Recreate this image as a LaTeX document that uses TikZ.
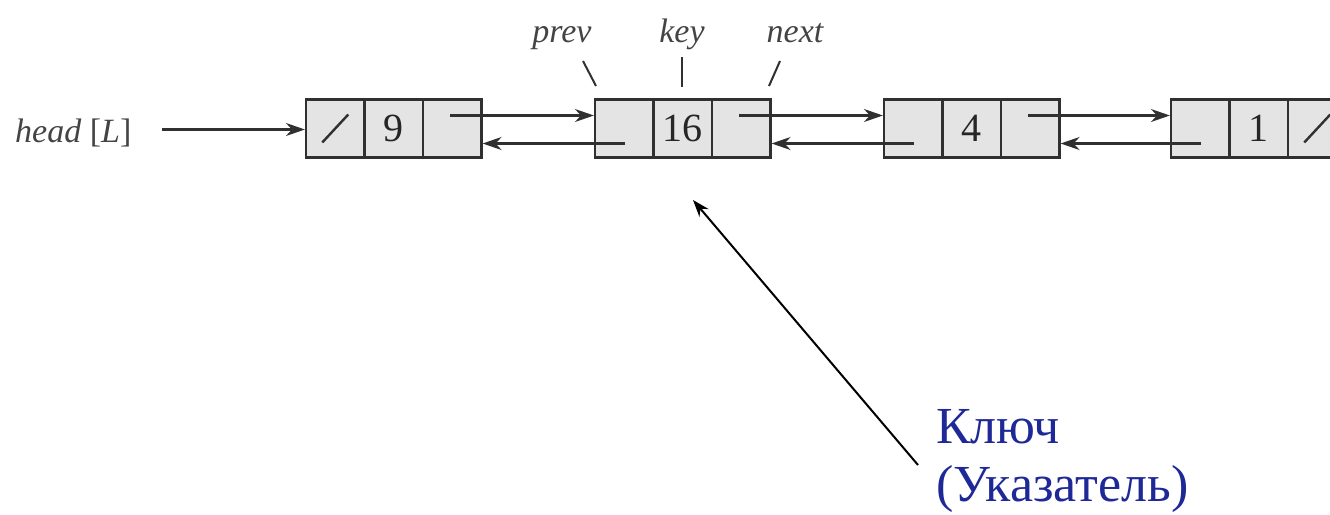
\documentclass[tikz,border=0pt]{standalone}
\usepackage{fontspec}
\setmainfont{Liberation Serif}
\usetikzlibrary{arrows.meta,calc}
\definecolor{inkgray}{HTML}{303030}
\definecolor{txtgray}{HTML}{444444}
\definecolor{cellfill}{HTML}{E4E4E4}
\definecolor{navy}{HTML}{1E2896}
\tikzset{
  cell/.style={draw=inkgray, fill=cellfill, line width=2.2pt, minimum width=58.5pt, minimum height=58pt, inner sep=0pt, text=black!85, font=\fontsize{40}{42}\selectfont},
  lbl/.style={text=txtgray, font=\fontsize{34}{36}\selectfont\itshape, inner sep=0pt},
  ptr/.style={draw=inkgray, line width=2.2pt, -{Stealth[length=19pt,width=13pt]}},
  tick/.style={draw=inkgray, line width=2pt},
  nil/.style={draw=inkgray, line width=2.4pt}
}
\begin{document}
\begin{tikzpicture}[x=1pt,y=-1pt]
\useasboundingbox (0,0) rectangle (1330,514);
\clip (0,0) rectangle (1330,514);
% list nodes
\node[cell] (n1a) at (335.25,128.5) {};
\node[cell] (n1b) at (393.75,128.5) {9};
\node[cell] (n1c) at (452.25,128.5) {};
\node[cell] (n2a) at (624.25,128.5) {};
\node[cell] (n2b) at (682.75,128.5) {16};
\node[cell] (n2c) at (741.25,128.5) {};
\node[cell] (n3a) at (913.25,128.5) {};
\node[cell] (n3b) at (971.75,128.5) {4};
\node[cell] (n3c) at (1030.25,128.5) {};
\node[cell] (n4a) at (1200.25,128.5) {};
\node[cell] (n4b) at (1258.75,128.5) {1};
\node[cell] (n4c) at (1317.25,128.5) {};
% nil slashes
\draw[nil] ($(n1a.center)+(-13,14)$) -- ($(n1a.center)+(13,-14)$);
\draw[nil] ($(n4c.center)+(-13,14)$) -- ($(n4c.center)+(13,-14)$);
% head
\node[lbl, anchor=base west] (head) at (15,142) {head \textup{[}L\textup{]}};
\draw[ptr] ($(n1a.west)+(-143,1)$) -- ($(n1a.west)+(0,1)$);
% next pointers
\draw[ptr] ($(n1c.center)+(-2,-13)$) -- ($(n2a.west)+(0,-13)$);
\draw[ptr] ($(n2c.center)+(-2,-13)$) -- ($(n3a.west)+(0,-13)$);
\draw[ptr] ($(n3c.center)+(-2,-13)$) -- ($(n4a.west)+(0,-13)$);
% prev pointers
\draw[ptr] ($(n2a.center)+(1,15)$) -- ($(n1c.east)+(0,15)$);
\draw[ptr] ($(n3a.center)+(1,15)$) -- ($(n2c.east)+(0,15)$);
\draw[ptr] ($(n4a.center)+(1,15)$) -- ($(n3c.east)+(0,15)$);
% field labels
\node[lbl, anchor=base] (lprev) at (562,42) {prev};
\node[lbl, anchor=base] (lkey) at (682,42) {key};
\node[lbl, anchor=base] (lnext) at (795,42) {next};
\draw[tick] (583,61) -- (596,86);
\draw[tick] (682,57) -- (682,87);
\draw[tick] (780,61) -- (769,86);
% annotation
\node[anchor=base west, align=left, text=navy, inner sep=0pt, font=\fontsize{52}{58}\selectfont] (note) at (936,501) {Ключ\\(Указатель)};
\coordinate (tail) at (918,465);
\coordinate (tip) at (693,200);
\draw[line width=2pt, -{Stealth[length=17pt,width=12pt]}] (tail) -- (tip);
\end{tikzpicture}
\end{document}
